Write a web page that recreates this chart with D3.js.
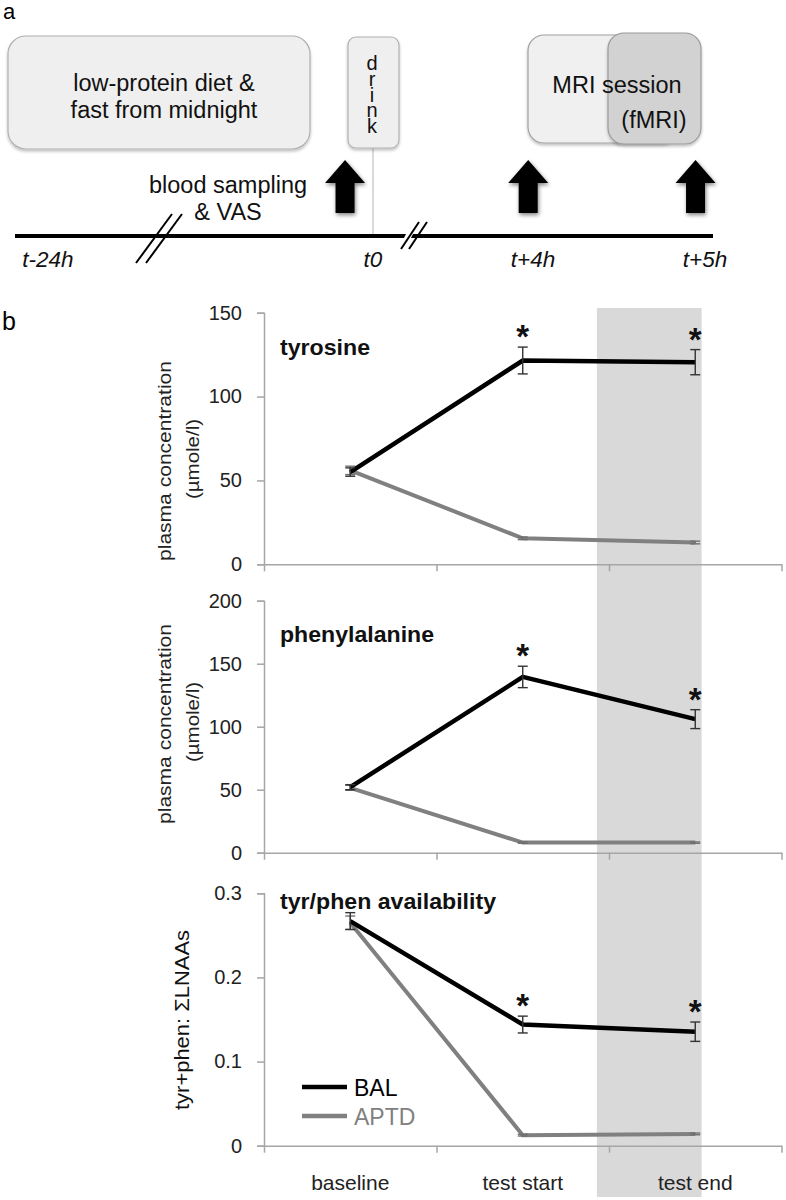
<!DOCTYPE html>
<html>
<head>
<meta charset="utf-8">
<script src="https://cdn.jsdelivr.net/npm/d3@7"></script>
<style>
  html, body { margin: 0; padding: 0; background: #fff; }
  svg { display: block; font-family: "Liberation Sans", Arial, sans-serif; }
</style>
</head>
<body>
<svg id="chart" width="786" height="1200"></svg>
<script>
// ---------- data ----------
const categories = ["baseline", "test start", "test end"];

const tyrBAL = [55, 121.5, 120.5];
const tyrBALErr = [2.5, 8, 7.5];
const tyrAPTD = [56, 15.5, 13];
const tyrAPTDErr = [2.5, 0.8, 0.8];
const tyrTicks = [0, 50, 100, 150];

const pheBAL = [52, 139.5, 106];
const pheBALErr = [2, 8.5, 7.5];
const pheAPTD = [51.5, 8, 8];
const pheAPTDErr = [2, 0.5, 0.5];
const pheTicks = [0, 50, 100, 150, 200];

const avBAL = [0.267, 0.144, 0.1355];
const avBALErr = [0.01, 0.01, 0.0115];
const avAPTD = [0.265, 0.0125, 0.014];
const avAPTDErr = [0.008, 0.001, 0.001];
const avTicks = [0, 0.1, 0.2, 0.3];

const significant = [false, true, true];
const seriesNames = ["BAL", "APTD"];

const timeLabels = ["t-24h", "t0", "t+4h", "t+5h"];
const samplingTimes = [0.914, 1.97, 2.945]; // in timeline-label index units (arrow positions)

// ---------- setup ----------
const svg = d3.select("#chart");
svg.append("rect").attr("width", 786).attr("height", 1200).attr("fill", "#fff");

const defs = svg.append("defs");
const f = defs.append("filter").attr("id", "shadow").attr("x", "-30%").attr("y", "-30%").attr("width", "160%").attr("height", "160%");
f.append("feGaussianBlur").attr("in", "SourceAlpha").attr("stdDeviation", 2);
f.append("feOffset").attr("dx", 1).attr("dy", 2).attr("result", "b");
f.append("feComponentTransfer").append("feFuncA").attr("type", "linear").attr("slope", 0.5);
const fm = f.append("feMerge");
fm.append("feMergeNode");
fm.append("feMergeNode").attr("in", "SourceGraphic");

const softShadow = defs.append("filter").attr("id", "soft").attr("x", "-10%").attr("y", "-10%").attr("width", "120%").attr("height", "130%");
softShadow.append("feGaussianBlur").attr("in", "SourceAlpha").attr("stdDeviation", 1.5);
softShadow.append("feOffset").attr("dx", 0).attr("dy", 1.5).attr("result", "b");
softShadow.append("feComponentTransfer").append("feFuncA").attr("type", "linear").attr("slope", 0.25);
const sm = softShadow.append("feMerge");
sm.append("feMergeNode");
sm.append("feMergeNode").attr("in", "SourceGraphic");

const FS_A = 23.5;

// ---------- panel a : timeline ----------
const ga = svg.append("g");
ga.append("text").attr("x", 3).attr("y", 19).attr("font-size", 22).text("a");

// boxes
ga.append("rect").attr("x", 8).attr("y", 36).attr("width", 302).attr("height", 113).attr("rx", 18)
  .attr("fill", "#efefef").attr("stroke", "#b0b0b0").attr("stroke-width", 1.2).attr("filter", "url(#soft)");
ga.append("text").attr("x", 164).attr("y", 91).attr("text-anchor", "middle").attr("font-size", FS_A).attr("fill", "#111").text("low-protein diet &");
ga.append("text").attr("x", 164).attr("y", 118).attr("text-anchor", "middle").attr("font-size", FS_A).attr("fill", "#111").text("fast from midnight");

ga.append("line").attr("x1", 373).attr("x2", 373).attr("y1", 148).attr("y2", 236).attr("stroke", "#b5b5b5").attr("stroke-width", 1);
ga.append("rect").attr("x", 348).attr("y", 37).attr("width", 51).attr("height", 111).attr("rx", 8)
  .attr("fill", "#efefef").attr("stroke", "#b0b0b0").attr("stroke-width", 1.2).attr("filter", "url(#soft)");
ga.append("text").attr("x", 372).attr("y", 52)
  .style("writing-mode", "vertical-rl").style("text-orientation", "upright")
  .attr("textLength", 85).attr("lengthAdjust", "spacing")
  .attr("font-size", 20).attr("fill", "#111").text("drink");

ga.append("rect").attr("x", 528).attr("y", 35).attr("width", 150).attr("height", 108).attr("rx", 16)
  .attr("fill", "#f0f0f0").attr("stroke", "#a0a0a0").attr("stroke-width", 1.2).attr("filter", "url(#soft)");
ga.append("rect").attr("x", 608).attr("y", 33).attr("width", 93).attr("height", 111).attr("rx", 16)
  .attr("fill", "#d2d2d2").attr("stroke", "#9a9a9a").attr("stroke-width", 1.2).attr("filter", "url(#soft)");
ga.append("text").attr("x", 617).attr("y", 93).attr("text-anchor", "middle").attr("font-size", FS_A).attr("fill", "#111").text("MRI session");
ga.append("text").attr("x", 654).attr("y", 128).attr("text-anchor", "middle").attr("font-size", FS_A).attr("fill", "#111").text("(fMRI)");

ga.append("text").attr("x", 228).attr("y", 193).attr("text-anchor", "middle").attr("font-size", FS_A).attr("fill", "#111").text("blood sampling");
ga.append("text").attr("x", 228).attr("y", 220).attr("text-anchor", "middle").attr("font-size", FS_A).attr("fill", "#111").text("& VAS");

// timeline
const tScale = d3.scaleLinear().domain([0, 1, 2, 3]).range([48, 373, 533, 705]);
ga.append("line").attr("x1", 15).attr("x2", 713).attr("y1", 236).attr("y2", 236).attr("stroke", "#000").attr("stroke-width", 4);
// breaks
[[136, 263, 172, 214], [146, 263, 182, 214]].forEach(d => {
  ga.append("line").attr("x1", d[0]).attr("y1", d[1]).attr("x2", d[2]).attr("y2", d[3]).attr("stroke", "#000").attr("stroke-width", 2);
});
ga.append("polygon").attr("points", "403,240 410,240 414,232 407,232").attr("fill", "#fff");
[[401, 249, 419, 222], [409, 249, 427, 222]].forEach(d => {
  ga.append("line").attr("x1", d[0]).attr("y1", d[1]).attr("x2", d[2]).attr("y2", d[3]).attr("stroke", "#000").attr("stroke-width", 2);
});

timeLabels.forEach((t, i) => {
  ga.append("text").attr("x", tScale(i)).attr("y", 267).attr("text-anchor", "middle")
    .attr("font-size", 22.5).attr("font-style", "italic").attr("fill", "#111").text(t);
});

// arrows
const arrowPath = (cx) => {
  const top = 160, headH = 23, headW = 20, shaftW = 9.5, bot = 213;
  const p = d3.path();
  p.moveTo(cx, top);
  p.lineTo(cx + headW, top + headH);
  p.lineTo(cx + shaftW, top + headH);
  p.lineTo(cx + shaftW, bot);
  p.lineTo(cx - shaftW, bot);
  p.lineTo(cx - shaftW, top + headH);
  p.lineTo(cx - headW, top + headH);
  p.closePath();
  return p.toString();
};
ga.selectAll("path.arrow").data(samplingTimes).enter().append("path").attr("class", "arrow")
  .attr("d", d => arrowPath(tScale(d)))
  .attr("fill", "#000").attr("filter", "url(#shadow)");

// ---------- panel b ----------
svg.append("text").attr("x", 2).attr("y", 330).attr("font-size", 25).text("b");

const xb = d3.scaleLinear().domain([0, 3]).range([264, 781.5]);
const cx = i => xb(i + 0.5);

// shaded fMRI period
svg.append("rect").attr("x", xb(1.93)).attr("width", xb(2.537) - xb(1.93))
  .attr("y", 308).attr("height", 1197 - 308).attr("fill", "#d9d9d9");

const panels = [
  { title: "tyrosine", ticks: tyrTicks, range: [564.3, 312.7], bal: tyrBAL, balErr: tyrBALErr, aptd: tyrAPTD, aptdErr: tyrAPTDErr,
    ylab: ["plasma concentration", "(µmole/l)"], ylabY: 461, titleY: 355, titleLen: 90 },
  { title: "phenylalanine", ticks: pheTicks, range: [852.7, 600.7], bal: pheBAL, balErr: pheBALErr, aptd: pheAPTD, aptdErr: pheAPTDErr,
    ylab: ["plasma concentration", "(µmole/l)"], ylabY: 724, titleY: 642, titleLen: 154 },
  { title: "tyr/phen availability", ticks: avTicks, range: [1145.7, 893.3], bal: avBAL, balErr: avBALErr, aptd: avAPTD, aptdErr: avAPTDErr,
    ylab: ["tyr+phen: ΣLNAAs"], ylabY: 1020, titleY: 909, titleLen: 216 }
];

panels.forEach((P, pi) => {
  const g = svg.append("g");
  const y = d3.scaleLinear().domain([0, d3.max(P.ticks)]).range(P.range);
  const fmt = pi === 2 ? (d => d === 0 ? "0" : d3.format(".1f")(d)) : d3.format("d");

  // y axis
  const ya = g.append("g").attr("transform", `translate(${xb(0)},0)`)
    .call(d3.axisLeft(y).tickValues(P.ticks).tickSize(7).tickPadding(15).tickFormat(fmt));
  ya.select(".domain").attr("stroke", "#a6a6a6").attr("stroke-width", 1.5);
  ya.selectAll(".tick line").attr("stroke", "#a6a6a6").attr("stroke-width", 1.5);
  ya.selectAll(".tick text").attr("font-size", 20).attr("fill", "#222").attr("font-family", "'Liberation Sans', Arial, sans-serif");

  // x axis
  const xa = g.append("g").attr("transform", `translate(0,${P.range[0]})`)
    .call(d3.axisBottom(xb).tickValues([0, 1, 2, 3]).tickSize(7).tickSizeOuter(0).tickFormat(""));
  xa.select(".domain").attr("stroke", "#a6a6a6").attr("stroke-width", 1.5);
  xa.selectAll(".tick line").attr("stroke", "#a6a6a6").attr("stroke-width", 1.5);

  // y label
  if (P.ylab.length === 2) {
    g.append("text").attr("transform", `translate(171,${P.ylabY}) rotate(-90)`).attr("text-anchor", "middle")
      .attr("font-size", 19).attr("fill", "#222").attr("textLength", 200).attr("lengthAdjust", "spacingAndGlyphs").text(P.ylab[0]);
    g.append("text").attr("transform", `translate(199,${P.ylabY - 2}) rotate(-90)`).attr("text-anchor", "middle")
      .attr("font-size", 19).attr("fill", "#222").attr("textLength", 80).attr("lengthAdjust", "spacingAndGlyphs").text(P.ylab[1]);
  } else {
    g.append("text").attr("transform", `translate(189,${P.ylabY}) rotate(-90)`).attr("text-anchor", "middle")
      .attr("font-size", 21).attr("fill", "#111").attr("textLength", 180).attr("lengthAdjust", "spacingAndGlyphs").text(P.ylab[0]);
  }

  // title
  g.append("text").attr("x", 280).attr("y", P.titleY).attr("font-size", 21.5).attr("font-weight", "bold")
    .attr("fill", "#111").attr("textLength", P.titleLen).attr("lengthAdjust", "spacingAndGlyphs").text(P.title);

  const line = d3.line().x((d, i) => cx(i)).y(d => y(d));

  // series
  [[P.aptd, P.aptdErr, "#808080", 4], [P.bal, P.balErr, "#000", 4.5]].forEach(([vals, errs, col, w]) => {
    g.append("path").datum(vals).attr("d", line).attr("fill", "none").attr("stroke", col)
      .attr("stroke-width", w).attr("stroke-linejoin", "miter");
    const eb = g.append("g");
    vals.forEach((v, i) => {
      const e = errs[i];
      const c = col === "#000" ? "#333" : "#707070";
      eb.append("line").attr("x1", cx(i)).attr("x2", cx(i)).attr("y1", y(v - e)).attr("y2", y(v + e)).attr("stroke", c).attr("stroke-width", 1.4);
      eb.append("line").attr("x1", cx(i) - 5).attr("x2", cx(i) + 5).attr("y1", y(v - e)).attr("y2", y(v - e)).attr("stroke", c).attr("stroke-width", 1.4);
      eb.append("line").attr("x1", cx(i) - 5).attr("x2", cx(i) + 5).attr("y1", y(v + e)).attr("y2", y(v + e)).attr("stroke", c).attr("stroke-width", 1.4);
    });
  });

  // asterisks
  significant.forEach((s, i) => {
    if (!s) return;
    g.append("text").attr("x", cx(i)).attr("y", y(P.bal[i] + P.balErr[i]) + 1).attr("text-anchor", "middle")
      .attr("font-size", 33).attr("font-weight", "bold").attr("fill", "#111").text("*");
  });

  if (pi === 2) {
    categories.forEach((c, i) => {
      g.append("text").attr("x", cx(i)).attr("y", 1190).attr("text-anchor", "middle").attr("font-size", 21).attr("fill", "#222").text(c);
    });
    // legend
    const leg = g.append("g");
    seriesNames.forEach((n, i) => {
      const col = i === 0 ? "#000" : "#808080";
      leg.append("line").attr("x1", 302).attr("x2", 347).attr("y1", 1087 + i * 29).attr("y2", 1087 + i * 29)
        .attr("stroke", col).attr("stroke-width", 4.5);
      leg.append("text").attr("x", 354).attr("y", 1096 + i * 29).attr("font-size", 23).attr("fill", col).text(n);
    });
  }
});
</script>
</body>
</html>
